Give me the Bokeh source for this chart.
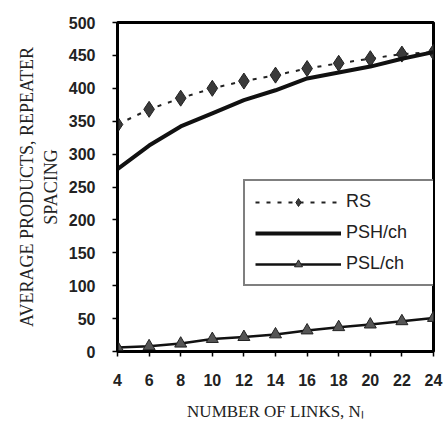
from bokeh.plotting import figure
from bokeh.models import FixedTicker, Legend, LegendItem, LinearAxis
from bokeh.embed import file_html
from bokeh.resources import INLINE

links = [4, 6, 8, 10, 12, 14, 16, 18, 20, 22, 24]
rs = [345, 368, 385, 400, 411, 420, 430, 438, 445, 452, 455]
psh = [277, 313, 342, 362, 382, 397, 415, 424, 433, 445, 455]
psl = [6, 8, 12, 19, 22, 26, 32, 37, 41, 46, 51]
y_ticks = [0, 50, 100, 150, 200, 250, 300, 350, 400, 450, 500]

p = figure(width=443, height=423, x_range=(4, 24), y_range=(0, 500),
           output_backend="svg", toolbar_location=None,
           min_border_left=117, min_border_right=10, min_border_top=22, min_border_bottom=71)

p.background_fill_color = "white"
p.border_fill_color = "white"
p.grid.visible = False
p.outline_line_color = "black"
p.outline_line_width = 3

r_rs_l = p.line(links, rs, line_color="#222222", line_width=2, line_dash="4 7")
r_rs_m = p.scatter(links, rs, marker="diamond", size=16, fill_color="#3a3a3a", line_color="#222222")
r_psh = p.line(links, psh, line_color="#111111", line_width=4)
r_psl_l = p.line(links, psl, line_color="#111111", line_width=2.5)
r_psl_m = p.scatter(links, psl, marker="triangle", size=12, fill_color="#555555", line_color="#222222")

legend = Legend(items=[
    LegendItem(label="RS", renderers=[r_rs_l, r_rs_m]),
    LegendItem(label="PSH/ch", renderers=[r_psh]),
    LegendItem(label="PSL/ch", renderers=[r_psl_l, r_psl_m]),
], location=(126, 65))
legend.label_text_font = "Liberation Sans"
legend.label_text_font_size = "18px"
legend.label_text_color = "#222222"
legend.glyph_width = 86
legend.glyph_height = 20
legend.label_height = 20
legend.label_width = 79
legend.label_standoff = 5
legend.spacing = 10
legend.padding = 10
legend.margin = 0
legend.border_line_color = "black"
legend.border_line_width = 2
legend.background_fill_color = "white"
legend.background_fill_alpha = 1
p.add_layout(legend, "center")

p.xaxis.ticker = FixedTicker(ticks=links)
p.yaxis.ticker = FixedTicker(ticks=y_ticks)
for ax in (p.xaxis, p.yaxis):
    ax.axis_line_color = "black"
    ax.axis_line_width = 2
    ax.major_tick_line_color = "black"
    ax.major_tick_line_width = 1.5
    ax.major_tick_in = 0
    ax.major_tick_out = 5
    ax.minor_tick_line_color = None
    ax.major_label_text_font = "Liberation Sans"
    ax.major_label_text_font_size = "16px"
    ax.major_label_text_font_style = "bold"
    ax.major_label_text_color = "#222222"
    ax.axis_label_text_font = "Liberation Serif"
    ax.axis_label_text_font_style = "normal"
    ax.axis_label_text_color = "#222222"

p.xaxis.major_label_standoff = 17
p.xaxis.axis_label = "NUMBER OF LINKS, N\u2097"
p.xaxis.axis_label_text_font_size = "17px"
p.xaxis.axis_label_standoff = 13
p.yaxis.major_label_standoff = 17
p.yaxis.axis_label = "SPACING"
p.yaxis.axis_label_text_font_size = "18px"
p.yaxis.axis_label_standoff = 5

outer = LinearAxis(ticker=FixedTicker(ticks=[]), axis_label="AVERAGE PRODUCTS, REPEATER",
                   axis_line_color=None, major_tick_line_color=None, minor_tick_line_color=None,
                   major_label_text_font_size="0px", major_label_standoff=0, axis_label_standoff=1,
                   axis_label_text_font="Liberation Serif", axis_label_text_font_size="18px",
                   axis_label_text_font_style="normal", axis_label_text_color="#222222")
p.add_layout(outer, "left")

open("out.html", "w").write(file_html(p, INLINE))
